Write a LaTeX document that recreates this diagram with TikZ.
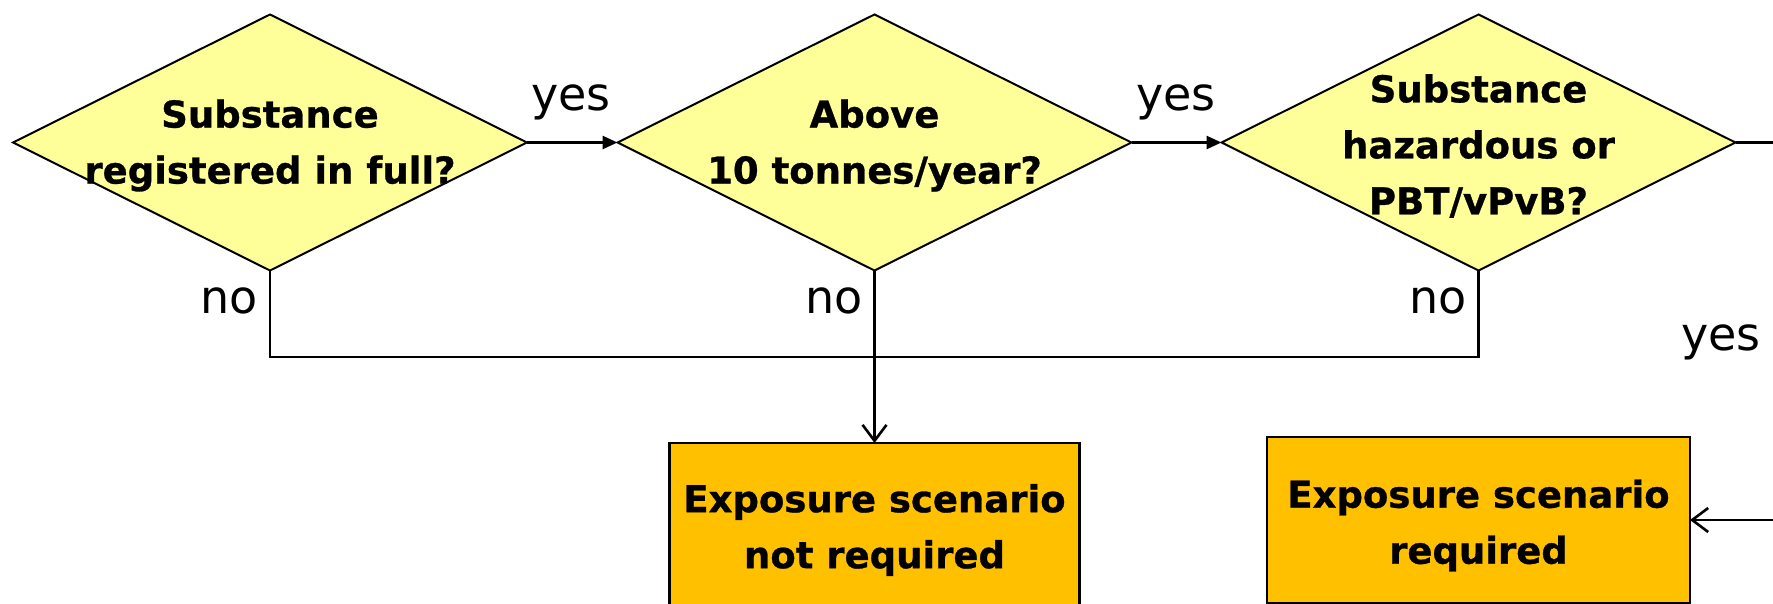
\documentclass[tikz,border=0pt]{standalone}
\usepackage{fontspec}
\setmainfont{DejaVu Sans}[BoldFont={DejaVu Sans Bold}, BoldFeatures={FakeBold=0.8}]
\usetikzlibrary{shapes.geometric,arrows.meta}
\definecolor{dyellow}{HTML}{FFFF99}
\definecolor{borange}{HTML}{FFC000}
\tikzset{
  question/.style={shape=diamond, draw=black, line width=2pt, fill=dyellow,
    minimum width=514pt, minimum height=256pt, inner sep=0pt, outer sep=0pt},
  qtext/.style={font=\fontsize{37}{56}\selectfont\bfseries, align=center, inner sep=0pt},
  result/.style={draw=black, line width=2.6pt, fill=borange, inner sep=0pt, outer sep=0pt},
  answer/.style={font=\fontsize{46}{55}\selectfont, inner sep=0pt},
  conn/.style={line width=2.6pt},
  yesarrow/.style={conn, -{Triangle[length=15pt,width=13pt]}},
  openarrow/.style={conn, -{Straight Barb[length=16pt,width=24pt,line width=2.6pt]}}
}
\begin{document}
\begin{tikzpicture}[x=1pt,y=-1pt]
\useasboundingbox (0,0) rectangle (1773,604);
% diamonds
\node[question] (d1) at (270,142.5) {};
\node[question] (d2) at (874.5,142.5) {};
\node[question] (d3) at (1478.5,142.5) {};
\node[qtext] (t1) at ([yshift=-3pt]d1.center) {Substance\\registered in full?};
\node[qtext] (t2) at ([yshift=-3pt]d2.center) {Above\\10 tonnes/year?};
\node[qtext] (t3) at ([yshift=-3.5pt]d3.center) {Substance\\hazardous or\\PBT/vPvB?};
% result boxes
\node[result, minimum width=410pt, minimum height=174pt] (b1) at (874.5,530) {};
\node[result, minimum width=423pt, minimum height=166pt] (b2) at (1478.5,520) {};
\node[qtext] (bt1) at (b1.center) {Exposure scenario\\not required};
\node[qtext] (bt2) at ([yshift=-5.5pt]b2.center) {Exposure scenario\\required};
% connectors
\draw[yesarrow] (d1.east) -- (d2.west);
\draw[yesarrow] (d2.east) -- (d3.west);
\coordinate (j) at (874.5,357);
\draw[conn] (d1.south) |- (j);
\draw[conn] (d3.south) |- (j);
\draw[openarrow] (d2.south) -- (b1.north);
\coordinate (e1) at (1785,142.5);
\draw[conn] (d3.east) -- (e1);
\coordinate (e2) at (1785,520);
\draw[openarrow] (e2) -- (b2.east);
% labels
\node[answer] (y1) at (571,102) {yes};
\node[answer] (y2) at (1176,102) {yes};
\node[answer] (y3) at (1721,342) {yes};
\node[answer] (n1) at (229,301) {no};
\node[answer] (n2) at (834,301) {no};
\node[answer] (n3) at (1438,301) {no};
\end{tikzpicture}
\end{document}
